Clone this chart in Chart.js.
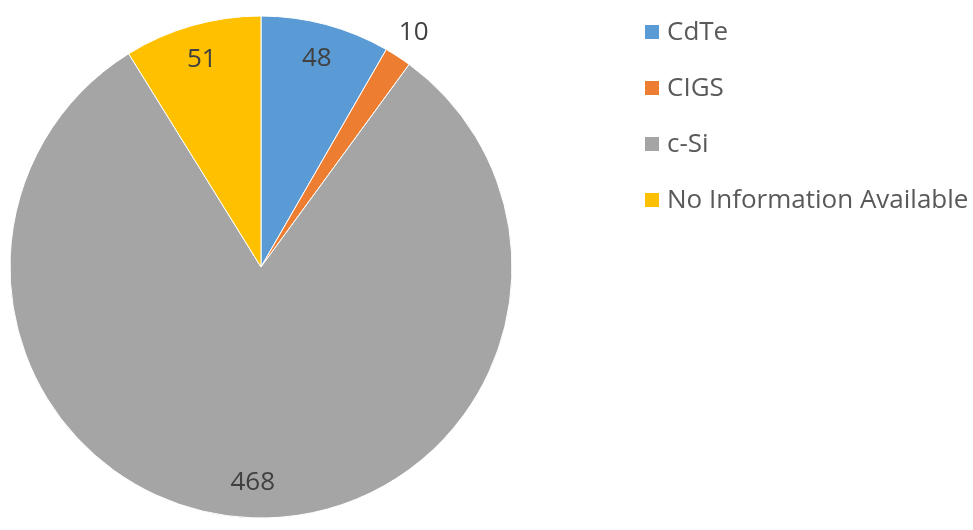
<!DOCTYPE html>
<html lang="en">
<head>
<meta charset="UTF-8">
<title>PV module technology</title>
<script src="https://cdn.jsdelivr.net/npm/chart.js"></script>
<style>
    body {
        margin: 0;
        background: #ffffff;
    }
    .chart-box {
        width: 973px;
        height: 530px;
    }
</style>
</head>
<body>

<div class="chart-box">
    <canvas id="techChart"></canvas>
</div>

<script>
    // number of systems per module technology
    const technologies = ['CdTe', 'CIGS', 'c-Si', 'No Information Available'];
    const systemCounts = [48, 10, 468, 51];

    const FONT = '26px "Open Sans", "Liberation Sans", sans-serif';

    // value labels: inside the slice, or just outside when the slice is too thin
    const sliceLabels = {
        id: 'sliceLabels',
        afterDatasetsDraw(chart) {
            const ctx = chart.ctx;
            const meta = chart.getDatasetMeta(0);
            const values = chart.data.datasets[0].data;
            ctx.save();
            ctx.font = FONT;
            ctx.fillStyle = '#404040';
            ctx.textAlign = 'center';
            ctx.textBaseline = 'middle';
            meta.data.forEach((arc, i) => {
                const p = arc.getProps(['x', 'y', 'startAngle', 'endAngle', 'outerRadius'], true);
                const mid = (p.startAngle + p.endAngle) / 2;
                const thin = (p.endAngle - p.startAngle) < 0.2;
                const r = p.outerRadius * (thin ? 1.115 : 0.86);
                ctx.fillText(String(values[i]), p.x + Math.cos(mid) * r, p.y + Math.sin(mid) * r);
            });
            ctx.restore();
        }
    };

    // legend column to the right of the pie
    const sideLegend = {
        id: 'sideLegend',
        afterDraw(chart) {
            const ctx = chart.ctx;
            const colors = chart.data.datasets[0].backgroundColor;
            ctx.save();
            ctx.font = FONT;
            ctx.textBaseline = 'middle';
            chart.data.labels.forEach((label, i) => {
                const cy = 32 + i * 56;
                ctx.fillStyle = colors[i];
                ctx.fillRect(645, cy - 7, 14, 14);
                ctx.fillStyle = '#595959';
                ctx.fillText(label, 667, cy + 1);
            });
            ctx.restore();
        }
    };

    new Chart(document.getElementById('techChart'), {
        type: 'pie',
        data: {
            labels: technologies,
            datasets: [{
                data: systemCounts,
                backgroundColor: ['#5B9BD5', '#ED7D31', '#A5A5A5', '#FFC000'],
                borderColor: '#ffffff',
                borderWidth: 1,
                radius: 251
            }]
        },
        options: {
            responsive: true,
            maintainAspectRatio: false,
            animation: false,
            layout: {
                padding: { left: 9, top: 15, right: 460, bottom: 11 }
            },
            plugins: {
                legend: { display: false },
                tooltip: { enabled: false }
            }
        },
        plugins: [sliceLabels, sideLegend]
    });
</script>

</body>
</html>
